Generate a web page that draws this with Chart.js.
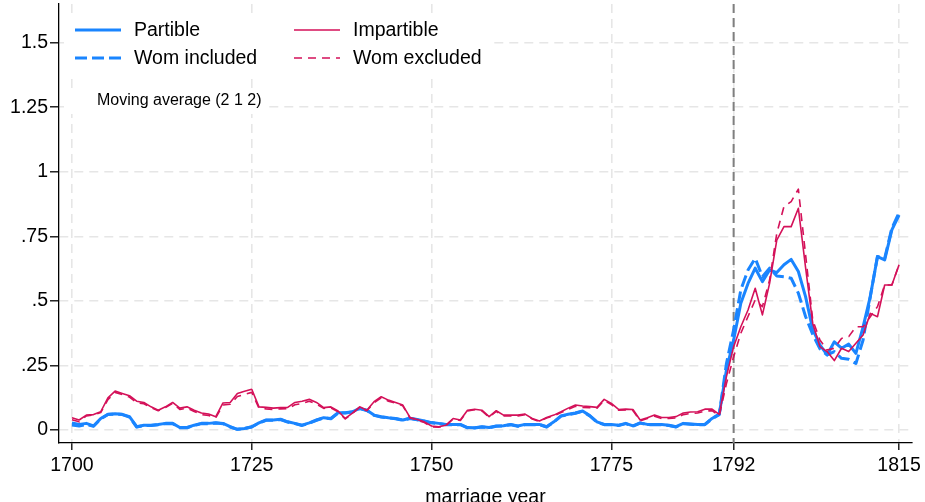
<!DOCTYPE html>
<html>
<head>
<meta charset="utf-8">
<script src="https://cdn.jsdelivr.net/npm/chart.js@4/dist/chart.umd.min.js"></script>
<style>
  html, body { margin: 0; padding: 0; background: #fff; }
</style>
</head>
<body>
<canvas id="chartMarriage" width="925" height="502"></canvas>
<script>
// marriage years
const years = [
    1700, 1701, 1702, 1703, 1704, 1705, 1706, 1707, 1708, 1709,
    1710, 1711, 1712, 1713, 1714, 1715, 1716, 1717, 1718, 1719,
    1720, 1721, 1722, 1723, 1724, 1725, 1726, 1727, 1728, 1729,
    1730, 1731, 1732, 1733, 1734, 1735, 1736, 1737, 1738, 1739,
    1740, 1741, 1742, 1743, 1744, 1745, 1746, 1747, 1748, 1749,
    1750, 1751, 1752, 1753, 1754, 1755, 1756, 1757, 1758, 1759,
    1760, 1761, 1762, 1763, 1764, 1765, 1766, 1767, 1768, 1769,
    1770, 1771, 1772, 1773, 1774, 1775, 1776, 1777, 1778, 1779,
    1780, 1781, 1782, 1783, 1784, 1785, 1786, 1787, 1788, 1789,
    1790, 1791, 1792, 1793, 1794, 1795, 1796, 1797, 1798, 1799,
    1800, 1801, 1802, 1803, 1804, 1805, 1806, 1807, 1808, 1809,
    1810, 1811, 1812, 1813, 1814, 1815
];

// Partible, all
const partible = [
    0.028, 0.022, 0.026, 0.016, 0.045, 0.061, 0.063, 0.061, 0.052, 0.013,
    0.019, 0.019, 0.022, 0.026, 0.026, 0.010, 0.010, 0.019, 0.026, 0.026,
    0.028, 0.026, 0.013, 0.003, 0.006, 0.013, 0.028, 0.039, 0.039, 0.042,
    0.032, 0.026, 0.019, 0.028, 0.039, 0.048, 0.045, 0.067, 0.067, 0.071,
    0.084, 0.077, 0.058, 0.052, 0.048, 0.045, 0.039, 0.046, 0.041, 0.035,
    0.029, 0.026, 0.022, 0.022, 0.022, 0.010, 0.009, 0.013, 0.010, 0.016,
    0.017, 0.022, 0.016, 0.022, 0.022, 0.022, 0.013, 0.032, 0.055, 0.061,
    0.066, 0.074, 0.056, 0.032, 0.022, 0.022, 0.019, 0.026, 0.016, 0.028,
    0.022, 0.022, 0.022, 0.019, 0.013, 0.026, 0.024, 0.022, 0.022, 0.045,
    0.062, 0.233, 0.349, 0.491, 0.568, 0.627, 0.575, 0.620, 0.610, 0.640,
    0.661, 0.614, 0.517, 0.390, 0.330, 0.291, 0.342, 0.317, 0.333, 0.297,
    0.400, 0.517, 0.672, 0.659, 0.775, 0.833
];

// Partible, women included
const womIncluded = [
    0.020, 0.016, 0.022, 0.015, 0.043, 0.060, 0.062, 0.060, 0.050, 0.012,
    0.018, 0.018, 0.021, 0.025, 0.025, 0.009, 0.009, 0.018, 0.025, 0.025,
    0.027, 0.025, 0.012, 0.003, 0.006, 0.012, 0.027, 0.038, 0.038, 0.041,
    0.031, 0.025, 0.018, 0.027, 0.038, 0.047, 0.044, 0.066, 0.066, 0.070,
    0.083, 0.076, 0.057, 0.051, 0.047, 0.044, 0.038, 0.045, 0.040, 0.034,
    0.028, 0.025, 0.021, 0.021, 0.021, 0.009, 0.008, 0.012, 0.009, 0.015,
    0.016, 0.021, 0.015, 0.021, 0.021, 0.021, 0.012, 0.031, 0.054, 0.060,
    0.065, 0.073, 0.055, 0.031, 0.021, 0.021, 0.018, 0.025, 0.015, 0.027,
    0.021, 0.021, 0.021, 0.018, 0.012, 0.025, 0.023, 0.021, 0.021, 0.044,
    0.060, 0.258, 0.388, 0.543, 0.620, 0.665, 0.594, 0.627, 0.597, 0.594,
    0.588, 0.530, 0.440, 0.370, 0.315, 0.291, 0.304, 0.278, 0.274, 0.258,
    0.349, 0.517, 0.672, 0.665, 0.782, 0.842
];

// Impartible, all
const impartible = [
    0.048, 0.039, 0.058, 0.060, 0.071, 0.125, 0.151, 0.142, 0.133, 0.112,
    0.107, 0.090, 0.077, 0.090, 0.107, 0.085, 0.090, 0.077, 0.066, 0.062,
    0.052, 0.105, 0.107, 0.142, 0.150, 0.158, 0.090, 0.088, 0.085, 0.087,
    0.088, 0.107, 0.112, 0.119, 0.107, 0.087, 0.090, 0.074, 0.045, 0.066,
    0.090, 0.077, 0.110, 0.129, 0.116, 0.107, 0.097, 0.049, 0.041, 0.032,
    0.016, 0.013, 0.019, 0.045, 0.039, 0.077, 0.081, 0.077, 0.052, 0.075,
    0.058, 0.058, 0.058, 0.062, 0.045, 0.035, 0.049, 0.058, 0.071, 0.085,
    0.097, 0.093, 0.091, 0.088, 0.119, 0.103, 0.080, 0.081, 0.080, 0.039,
    0.048, 0.058, 0.049, 0.049, 0.052, 0.066, 0.070, 0.071, 0.081, 0.081,
    0.061, 0.207, 0.323, 0.400, 0.465, 0.549, 0.446, 0.568, 0.736, 0.788,
    0.788, 0.859, 0.630, 0.413, 0.323, 0.304, 0.269, 0.317, 0.304, 0.336,
    0.368, 0.452, 0.439, 0.562, 0.562, 0.640
];

// Impartible, women excluded
const womExcluded = [
    0.040, 0.032, 0.055, 0.058, 0.068, 0.118, 0.146, 0.138, 0.128, 0.106,
    0.102, 0.087, 0.075, 0.087, 0.104, 0.080, 0.085, 0.072, 0.060, 0.057,
    0.048, 0.097, 0.100, 0.130, 0.138, 0.146, 0.085, 0.082, 0.080, 0.082,
    0.083, 0.098, 0.103, 0.112, 0.100, 0.084, 0.086, 0.071, 0.043, 0.064,
    0.088, 0.075, 0.106, 0.125, 0.112, 0.104, 0.094, 0.047, 0.039, 0.029,
    0.013, 0.011, 0.017, 0.043, 0.037, 0.074, 0.079, 0.074, 0.050, 0.072,
    0.055, 0.055, 0.055, 0.060, 0.043, 0.033, 0.047, 0.055, 0.068, 0.080,
    0.092, 0.088, 0.087, 0.085, 0.115, 0.099, 0.077, 0.078, 0.076, 0.036,
    0.045, 0.054, 0.045, 0.045, 0.047, 0.060, 0.064, 0.066, 0.074, 0.075,
    0.055, 0.180, 0.284, 0.375, 0.440, 0.504, 0.478, 0.581, 0.762, 0.866,
    0.885, 0.933, 0.680, 0.426, 0.349, 0.310, 0.317, 0.355, 0.362, 0.400,
    0.400, 0.439, 0.478, 0.562, 0.562, 0.640
];

// axis ticks
const xTicks = [1700, 1725, 1750, 1775, 1792, 1815];
const yTicks = [0, 0.25, 0.5, 0.75, 1, 1.25, 1.5];
const yTickLabels = ['0', '.25', '.5', '.75', '1', '1.25', '1.5'];
const reformYear = 1792;

const BLUE = '#1a85ff';
const RED = '#d41159';
const FONT = '"Liberation Sans", Arial, sans-serif';
const tickFont = { family: FONT, size: 19.5 };

function toPoints(values) {
    return years.map((yr, i) => ({ x: yr, y: values[i] }));
}

// 1792 vertical dashed line, drawn under the series
const reformLine = {
    id: 'reformLine',
    beforeDatasetsDraw(chart) {
        const { ctx, chartArea, scales } = chart;
        const px = scales.x.getPixelForValue(reformYear);
        ctx.save();
        ctx.strokeStyle = '#7f7f7f';
        ctx.lineWidth = 2;
        ctx.setLineDash([9, 5]);
        ctx.beginPath();
        ctx.moveTo(px, chartArea.top);
        ctx.lineTo(px, chartArea.bottom);
        ctx.stroke();
        ctx.restore();
    }
};

// legend inside the plot + note
const plotLegend = {
    id: 'plotLegend',
    afterDraw(chart) {
        const ctx = chart.ctx;
        const ds = chart.data.datasets;
        ctx.save();
        ctx.fillStyle = '#fff';
        ctx.fillRect(64, 14, 428, 60);
        ctx.fillRect(64, 88, 202, 26);

        const slots = [
            { i: 0, x: 75, y: 30 },
            { i: 2, x: 294, y: 30 },
            { i: 1, x: 75, y: 58 },
            { i: 3, x: 294, y: 58 }
        ];
        slots.forEach(s => {
            const d = ds[s.i];
            ctx.strokeStyle = d.borderColor;
            ctx.lineWidth = d.borderWidth;
            ctx.setLineDash(d.borderDash || []);
            ctx.beginPath();
            ctx.moveTo(s.x, s.y);
            ctx.lineTo(s.x + 46, s.y);
            ctx.stroke();
            ctx.setLineDash([]);
            ctx.fillStyle = '#000';
            ctx.font = '19.5px ' + FONT;
            ctx.textBaseline = 'middle';
            ctx.fillText(d.label, s.x + 59, s.y + 1);
        });

        ctx.font = '16px ' + FONT;
        ctx.fillText('Moving average (2 1 2)', 97, 101);
        ctx.restore();
    }
};

const ctx = document.getElementById('chartMarriage').getContext('2d');
const chartMarriage = new Chart(ctx, {
    type: 'line',
    data: {
        datasets: [{
            label: 'Partible',
            data: toPoints(partible),
            borderColor: BLUE,
            borderWidth: 3,
            borderDash: [],
            order: 4
        }, {
            label: 'Wom included',
            data: toPoints(womIncluded),
            borderColor: BLUE,
            borderWidth: 3,
            borderDash: [12, 5],
            order: 3
        }, {
            label: 'Impartible',
            data: toPoints(impartible),
            borderColor: RED,
            borderWidth: 1.6,
            borderDash: [],
            order: 2
        }, {
            label: 'Wom excluded',
            data: toPoints(womExcluded),
            borderColor: RED,
            borderWidth: 1.6,
            borderDash: [8, 6],
            order: 1
        }]
    },
    options: {
        responsive: false,
        animation: false,
        devicePixelRatio: 1,
        layout: { padding: { left: 0, right: 13, top: 4, bottom: 0 } },
        elements: {
            point: { radius: 0 },
            line: { tension: 0, borderJoinStyle: 'round' }
        },
        plugins: {
            legend: { display: false },
            tooltip: { enabled: false }
        },
        scales: {
            x: {
                type: 'linear',
                min: 1698.2,
                max: 1816.8,
                afterBuildTicks: s => { s.ticks = xTicks.map(v => ({ value: v })); },
                afterFit: s => { s.height = 59; s.paddingLeft = 0; s.paddingRight = 0; },
                ticks: {
                    autoSkip: false,
                    maxRotation: 0,
                    color: '#000',
                    font: tickFont,
                    padding: 4,
                    callback: v => String(v)
                },
                grid: { color: '#e6e6e6', lineWidth: 1.6, tickColor: '#000', tickLength: 7, tickWidth: 1.3 },
                border: { color: '#000', width: 1.3, dash: [9, 6] },
                title: {
                    display: true,
                    text: 'marriage year',
                    color: '#000',
                    font: tickFont,
                    padding: { top: 0, bottom: -7 }
                }
            },
            y: {
                type: 'linear',
                min: -0.05,
                max: 1.65,
                afterBuildTicks: s => { s.ticks = yTicks.map(v => ({ value: v })); },
                afterFit: s => { s.width = 59; s.paddingTop = 0; s.paddingBottom = 0; },
                ticks: {
                    color: '#000',
                    font: tickFont,
                    padding: 2,
                    callback: v => yTickLabels[yTicks.indexOf(v)]
                },
                grid: { color: '#e6e6e6', lineWidth: 1.6, tickColor: '#000', tickLength: 9, tickWidth: 1.3 },
                border: { color: '#000', width: 1.3, dash: [9, 6] }
            }
        }
    },
    plugins: [reformLine, plotLegend]
});
</script>
</body>
</html>
